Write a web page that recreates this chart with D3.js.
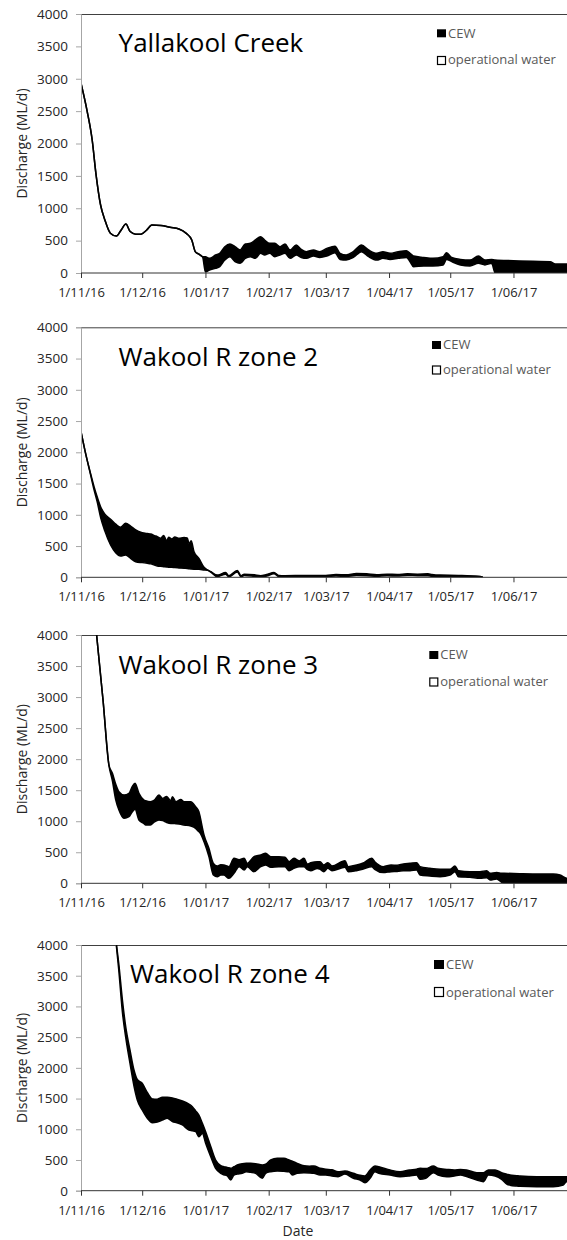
<!DOCTYPE html>
<html><head><meta charset="utf-8">
<script src="https://cdn.jsdelivr.net/npm/d3@7"></script>
<style>
html,body{margin:0;padding:0;background:#fff;}
svg{display:block;font-family:"Open Sans",sans-serif;}
</style></head>
<body>
<svg id="chart" width="567" height="1240"></svg>
<script>
// ---------- DATA (day offsets from 1 Nov 2016, discharge in ML/d) ----------
const startDate = Date.UTC(2016, 10, 1);
const endDate = Date.UTC(2017, 6, 1);
const yTicks = [0, 500, 1000, 1500, 2000, 2500, 3000, 3500, 4000];
const xTickDates = ["2016-11-01","2016-12-01","2017-01-01","2017-02-01","2017-03-01","2017-04-01","2017-05-01","2017-06-01"];
const legendLabels = ["CEW", "operational water"];
const panelTitles = ["Yallakool Creek", "Wakool R zone 2", "Wakool R zone 3", "Wakool R zone 4"];

const yallakoolDays  = [0,3,5.5,7.3,9.6,11.7,14.4,17.4,19.7,22,24.1,26.8,29.4,32.1,34.7,39.2,43.6,48,51.6,54.3,56,57.8,59.6,61,63,66,68,70.5,73,75.5,78,80.5,83,85.5,88,90,92.5,95,97.5,100,102.5,105.5,108,110.5,114,117,120.5,124.5,127,130,133.5,137.5,141,145,148,151.5,155.5,159.5,161.3,163,168,172.5,177.5,179.2,181.7,186,190.7,194.8,198,201.3,203,212,221.5,230,232.5,238,241];
const yallakoolTotal = [2930,2500,2050,1540,1050,820,615,570,665,755,640,600,600,660,740,735,705,680,612,510,330,290,250,250,226,278,304,406,448,406,355,448,458,510,561,510,458,458,406,448,355,432,365,330,355,330,380,415,304,278,330,432,355,304,330,304,330,345,304,262,240,226,252,314,240,210,200,262,200,210,200,190,180,175,139,139,130];
const yallakoolOper  = [2930,2500,2050,1540,1050,820,615,570,665,755,640,600,600,660,740,735,705,680,612,510,330,290,250,15,46,72,98,200,252,175,149,226,252,226,304,278,304,252,278,304,226,278,240,226,262,240,262,314,210,200,240,330,252,200,226,210,226,240,175,98,108,108,125,210,175,125,108,149,125,149,0,0,0,0,0,0,0];

const zone2Days  = [0,2,4.7,6.4,8,9.6,11.7,14.5,17,19.4,21.9,24.3,26.8,30,32.5,34.2,36,37.4,39,40.5,42,43,44.5,46,48,50.5,52.1,53,54,55.4,57.8,60.3,62,63.6,66.8,70.9,72.5,76.6,78.5,80,85,88,91,94.6,97,100,110,120,125,130,135,140,145,150,155,160,165,170,172,176,185,195,197];
const zone2Total = [2330,2020,1660,1450,1280,1130,1010,930,850,800,864,820,757,714,700,693,667,650,624,667,586,640,613,645,625,635,630,533,586,410,304,160,117,90,35,75,25,110,25,50,40,25,45,75,30,25,30,30,45,40,60,55,40,50,45,55,50,55,45,35,30,15,0];
const zone2Oper  = [2330,2020,1640,1400,1200,960,740,517,394,341,357,304,250,235,224,215,195,181,175,170,165,162,160,155,150,144,140,136,133,130,128,118,112,85,10,50,5,85,5,30,15,5,20,55,10,5,10,10,20,15,30,25,15,25,20,30,25,25,15,10,8,0,0];

const zone3Days  = [7.5,10.8,13.7,15.4,17,18.6,21.1,23.5,25.1,26.5,28.4,30.9,31.7,34,36,38.2,40,42,44,44.8,46.5,48.9,50.5,53.8,56.2,57.8,58.2,60.3,62.7,64.9,66.8,68.5,70,72.5,75,77.5,80,81.5,84.8,88.1,90.5,93,97,100,102,104.4,107,109.3,111,112.6,115.8,117.2,119,121,123,129.4,131,135,138,142.5,144,148.2,152,155,158,161.3,164.5,166.2,171,176,180.9,183.3,185,190.7,195.6,198.9,200.5,203.8,206.2,207.5,215,225,231.5,234.8,238,241];
const zone3Total = [4050,2950,1905,1771,1600,1475,1422,1449,1556,1610,1449,1341,1330,1315,1341,1422,1368,1400,1330,1395,1315,1350,1315,1315,1234,1154,1100,778,563,320,279,300,295,268,402,380,402,322,429,456,483,429,429,418,349,402,360,402,311,330,349,348,295,333,279,364,268,295,322,402,348,268,295,290,311,322,333,268,241,225,225,279,204,188,188,204,161,172,161,161,155,150,150,134,80,70];
const zone3Oper  = [4050,2950,1900,1650,1350,1180,1046,1073,1150,1191,1019,960,939,939,990,1019,1010,980,965,965,960,950,939,922,885,831,820,670,429,134,107,134,134,80,161,268,215,268,188,268,295,258,265,265,204,241,268,268,220,204,240,225,188,241,204,258,188,204,225,268,225,172,188,190,204,204,215,134,118,107,134,188,107,96,80,90,54,70,16,0,0,0,0,0,0,0];

const zone4Days  = [17,18.5,20.3,22,24,26,27.6,30,32.5,35,37.4,39.9,42.3,44.8,47,49.7,52.9,54.6,56.2,57.8,59.5,61.1,63.6,66,68.5,70,71.7,73.4,75,76.6,79,81,83.2,85.6,88.9,90.5,93,96.2,99.5,102,103.6,106,109.3,112,114.2,117.2,120,123,126,129.4,133.5,136.8,139.2,141.7,144.1,146,151.5,156.4,161,164.5,166.2,169,172.7,175,179.3,183,186,189,194,197.2,199.7,203,206.2,208.7,210.3,213.6,215.2,223.4,231.5,236.4,238,241];
const zone4Total = [4100,3700,3105,2650,2293,1960,1810,1750,1600,1495,1490,1520,1520,1510,1490,1460,1410,1368,1300,1230,1097,960,720,500,410,391,380,364,390,418,440,445,445,440,420,430,500,527,527,500,480,445,407,400,402,364,350,340,309,320,283,250,239,337,402,391,337,309,337,350,364,360,402,364,347,337,345,337,293,293,337,337,293,270,255,245,239,228,228,228,228,230];
const zone4Oper  = [4100,3600,2906,2480,2076,1700,1477,1314,1179,1107,1120,1150,1179,1124,1107,1070,988,975,961,879,933,771,553,364,283,260,239,174,255,270,283,309,300,283,201,283,309,320,315,309,255,283,293,290,283,255,255,240,228,270,201,174,130,201,309,283,255,228,240,255,185,201,293,255,228,240,255,230,174,147,255,239,185,109,90,76,72,65,65,92,147,150];

// ---------- LAYOUT ----------
const layout = [
  {top: 14,    bottom: 273,    title: [118.6, 51.7], leg: [437, 29.3, 37.6, 56, 64.2], sq: 9},
  {top: 327.3, bottom: 577.3,  title: [118.6, 365.7], leg: [432, 341, 349.3, 365.5, 374], sq: 9},
  {top: 635,   bottom: 883.3,  title: [118.6, 674],   leg: [429.3, 651, 658.6, 677.5, 686], sq: 9},
  {top: 945,   bottom: 1190.7, title: [130, 982.7],   leg: [434, 960, 969, 987, 996.5], sq: 10}
];
const series = [
  [yallakoolDays, yallakoolTotal, yallakoolOper],
  [zone2Days, zone2Total, zone2Oper],
  [zone3Days, zone3Total, zone3Oper],
  [zone4Days, zone4Total, zone4Oper]
];

const svg = d3.select("#chart");
const x = d3.scaleUtc().domain([new Date(startDate), new Date(endDate)]).range([81, 81 + 242 * 2.04]);
const dayToDate = d => new Date(startDate + d * 86400000);
const fmt = d3.utcFormat("%-d/%m/%y");
const tickDates = xTickDates.map(s => new Date(s + "T00:00:00Z"));

layout.forEach((L, i) => {
  const y = d3.scaleLinear().domain([0, 4000]).range([L.bottom, L.top]);
  const [days, total, oper] = series[i];
  const data = days.map((d, k) => ({date: dayToDate(d), total: total[k], oper: oper[k]}));
  const g = svg.append("g");

  const clipId = "clip" + i;
  svg.append("clipPath").attr("id", clipId).append("rect")
    .attr("x", 81).attr("y", L.top).attr("width", 500).attr("height", L.bottom - L.top);

  // top border
  g.append("line").attr("x1", 81).attr("x2", 600).attr("y1", L.top + 0.5).attr("y2", L.top + 0.5)
    .attr("stroke", "#404040").attr("stroke-width", 1);

  const pg = g.append("g").attr("clip-path", `url(#${clipId})`);
  const curve = d3.curveMonotoneX;
  pg.append("path").datum(data)
    .attr("d", d3.area().curve(curve).x(d => x(d.date)).y0(y(0)).y1(d => y(d.oper)))
    .attr("fill", "#fff");
  pg.append("path").datum(data)
    .attr("d", d3.area().curve(curve).x(d => x(d.date)).y0(d => y(d.oper)).y1(d => y(d.total)))
    .attr("fill", "#000");
  pg.append("path").datum(data)
    .attr("d", d3.line().curve(curve).x(d => x(d.date)).y(d => y(d.total)))
    .attr("fill", "none").attr("stroke", "#000").attr("stroke-width", 1.5);
  pg.append("path").datum(data)
    .attr("d", d3.line().curve(curve).x(d => x(d.date)).y(d => y(d.oper)))
    .attr("fill", "none").attr("stroke", "#000").attr("stroke-width", 1.5);

  // y axis
  const ya = g.append("g").attr("transform", "translate(81,0)")
    .call(d3.axisLeft(y).tickValues(yTicks).tickSize(5).tickPadding(8).tickFormat(d3.format("d")));
  ya.select(".domain").attr("stroke", "#a6a6a6");
  ya.selectAll(".tick line").attr("stroke", "#a6a6a6");
  ya.selectAll("text").attr("font-size", "13.5px").attr("fill", "#262626").attr("font-family", "Open Sans");
  ya.selectAll(".tick text").attr("x", -13);

  // x axis
  const xa = g.append("g").attr("transform", `translate(0,${L.bottom})`)
    .call(d3.axisBottom(x).tickValues(tickDates).tickSize(5).tickPadding(10).tickFormat(fmt));
  xa.select(".domain").attr("stroke", "#333").attr("d", `M81,0H600`);
  xa.selectAll(".tick line").attr("stroke", "#333");
  xa.selectAll("text").attr("font-size", "13px").attr("fill", "#262626").attr("font-family", "Open Sans")
    .attr("dy", null).attr("y", 24);

  // y label
  g.append("text").attr("transform", `translate(27,${(L.top + L.bottom) / 2}) rotate(-90)`)
    .attr("text-anchor", "middle").attr("font-size", "14px").attr("fill", "#262626")
    .text("Discharge (ML/d)");

  // title
  g.append("text").attr("x", L.title[0]).attr("y", L.title[1])
    .attr("font-size", "26px").attr("fill", "#000").text(panelTitles[i]);

  // legend
  const [lx, sy1, ty1, sy2, ty2] = L.leg;
  g.append("rect").attr("x", lx).attr("y", sy1).attr("width", L.sq).attr("height", L.sq - 1).attr("fill", "#000");
  g.append("text").attr("x", lx + L.sq + 2).attr("y", ty1).attr("font-size", "13px").attr("fill", "#595959").text(legendLabels[0]);
  g.append("rect").attr("x", lx + 0.5).attr("y", sy2 + 0.5).attr("width", L.sq - 1).attr("height", L.sq - 1)
    .attr("fill", "#fff").attr("stroke", "#000").attr("stroke-width", 1.2);
  g.append("text").attr("x", lx + L.sq + 2).attr("y", ty2).attr("font-size", "13px").attr("fill", "#595959").text(legendLabels[1]);
});

svg.append("text").attr("x", 298).attr("y", 1235.5).attr("text-anchor", "middle")
  .attr("font-size", "14px").attr("fill", "#262626").text("Date");
</script>
</body></html>
